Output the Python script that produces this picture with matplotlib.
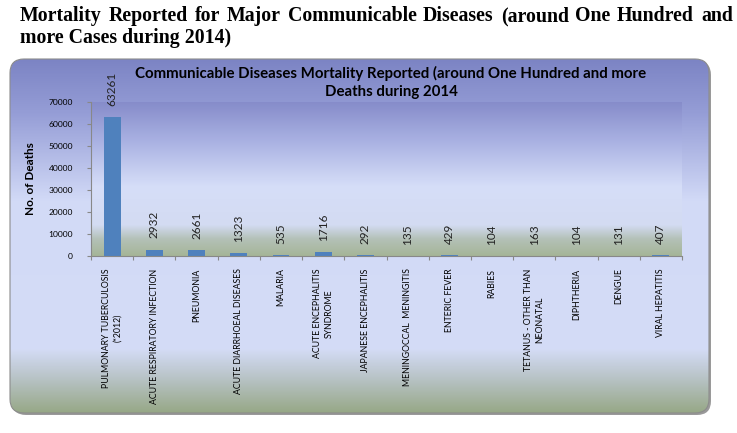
import matplotlib.pyplot as plt
import numpy as np
from matplotlib.patches import FancyBboxPatch
from matplotlib.colors import LinearSegmentedColormap

# data
diseases = ["PULMONARY TUBERCULOSIS\n(*2012)", "ACUTE RESPIRATORY INFECTION", "PNEUMONIA",
            "ACUTE DIARRHOEAL DISEASES", "MALARIA", "ACUTE ENCEPHALITIS\nSYNDROME",
            "JAPANESE ENCEPHALITIS", "MENINGOCCAL  MENINGITIS", "ENTERIC FEVER", "RABIES",
            "TETANUS - OTHER THAN\nNEONATAL", "DIPHTHERIA", "DENGUE", "VIRAL HEPATITIS"]
deaths = [63261, 2932, 2661, 1323, 535, 1716, 292, 135, 429, 104, 163, 104, 131, 407]
yticks = [0, 10000, 20000, 30000, 40000, 50000, 60000, 70000]
heading = ["Mortality Reported for Major Communicable Diseases (around One Hundred and",
           "more Cases during 2014)"]

W, H = 737, 433
fig = plt.figure(figsize=(W / 100, H / 100), dpi=100)
fig.patch.set_facecolor("white")

# background layer in pixel coordinates
bg = fig.add_axes([0, 0, 1, 1])
bg.set_xlim(0, W)
bg.set_ylim(H, 0)
bg.axis("off")

# page heading, first line justified between x=20 and x=733
head_font = dict(family="Liberation Serif", weight="bold", fontsize=14.3, va="baseline", ha="left")
renderer = fig.canvas.get_renderer()
words = heading[0].split()
texts = [bg.text(0, 21, w, **head_font) for w in words]
widths = [t.get_window_extent(renderer).width for t in texts]
gap = (733 - 20 - sum(widths)) / (len(words) - 1)
xpos = 20
for t, w in zip(texts, widths):
    t.set_x(round(xpos))
    xpos += w + gap
bg.text(20, 43, heading[1], **head_font)

# rounded chart panel with shadow and gradient
x0, y0, x1, y1 = 10, 59, 709, 413
shadow = FancyBboxPatch((x0 + 2, y0 + 2), x1 - x0, y1 - y0, boxstyle="round,pad=0,rounding_size=14",
                        facecolor="#9a9a9a", edgecolor="none", zorder=1)
bg.add_patch(shadow)
panel = FancyBboxPatch((x0, y0), x1 - x0, y1 - y0, boxstyle="round,pad=0,rounding_size=14",
                       facecolor="none", edgecolor="#8c8c8c", linewidth=0.8, zorder=3)
bg.add_patch(panel)
panel_cmap = LinearSegmentedColormap.from_list("panel", [
    (0.0, "#7c84c4"), (0.15, "#959dd6"), (0.40, "#d2daf7"),
    (0.82, "#d4dcf6"), (0.90, "#b9c4c8"), (1.0, "#97a887")])
grad = np.linspace(0, 1, 256).reshape(-1, 1)
im = bg.imshow(grad, cmap=panel_cmap, aspect="auto", extent=(x0, x1, y1, y0), zorder=2)
im.set_clip_path(panel)

# chart title
bg.text(391, 73, "Communicable Diseases Mortality Reported (around One Hundred and more",
        family="Lato", weight="bold", fontsize=10.85, ha="center", va="center", zorder=5)
bg.text(391, 92, "Deaths during 2014", family="Lato", weight="bold", fontsize=10.85,
        ha="center", va="center", zorder=5)

# plot area
px0, py0, px1, py1 = 91, 102, 682, 256
ax = fig.add_axes([px0 / W, 1 - py1 / H, (px1 - px0) / W, (py1 - py0) / H])
ax.patch.set_alpha(0)
plot_cmap = LinearSegmentedColormap.from_list("plot", [
    (0.0, "#868cca"), (0.25, "#a9b1e2"), (0.55, "#d6def8"),
    (0.80, "#d3dbf2"), (0.89, "#b4c1b8"), (1.0, "#a5b597")])
ax.imshow(grad, cmap=plot_cmap, aspect="auto", extent=(0, 1, 0, 1),
          transform=ax.transAxes, zorder=0)

x = np.arange(len(diseases))
ax.bar(x, deaths, width=0.4, color="#4f81bd", zorder=2)
for xi, v in zip(x, deaths):
    ax.annotate(str(v), (xi, v), xytext=(0, 8), textcoords="offset points",
                rotation=90, ha="center", va="bottom", family="Lato", fontsize=8.5,
                color="#222222", annotation_clip=False)

ax.set_xlim(-0.5, len(diseases) - 0.5)
ax.set_ylim(0, 70000)
ax.set_yticks(yticks)
ax.set_yticklabels([str(t) for t in yticks], family="Lato", fontsize=6.1)
ax.set_xticks(np.arange(len(diseases) + 1) - 0.5, minor=False)
ax.set_xticklabels([])
ax.set_xticks(x, minor=True)
ax.set_xticklabels(diseases, minor=True, rotation=90, ha="center", va="top",
                   family="Lato", fontsize=6.3, linespacing=1.4)
ax.tick_params(axis="x", which="minor", length=0, pad=9)
ax.tick_params(axis="x", which="major", length=3, color="#888888")
ax.tick_params(axis="y", length=3, color="#888888", pad=10)
for s in ["top", "right"]:
    ax.spines[s].set_visible(False)
for s in ["left", "bottom"]:
    ax.spines[s].set_color("#888888")
    ax.spines[s].set_linewidth(0.8)
ax.set_ylabel("No. of Deaths", family="Lato", weight="bold", fontsize=8.5, labelpad=9)

plt.savefig("out.png", dpi=100)
